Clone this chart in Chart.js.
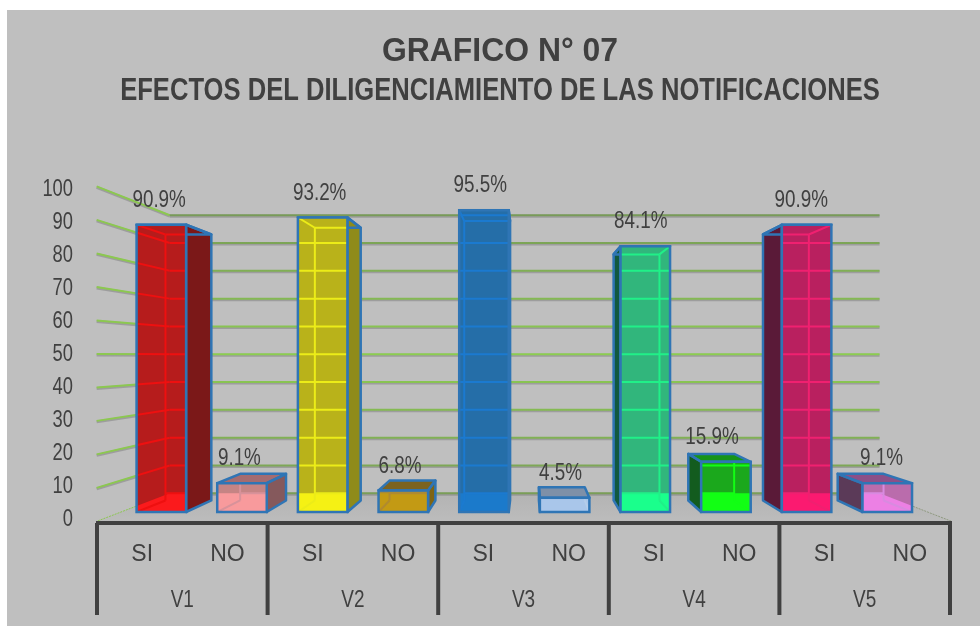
<!DOCTYPE html>
<html><head><meta charset="utf-8">
<style>html,body{margin:0;padding:0;background:#fff}canvas{display:block}</style>
<script src="https://cdn.jsdelivr.net/npm/chart.js@4"></script>
</head><body><canvas id="c" width="980" height="626"></canvas>
<script>
const titleText = 'GRAFICO N° 07';
const subtitleText = 'EFECTOS DEL DILIGENCIAMIENTO DE LAS NOTIFICACIONES';
const responses = ['SI','NO','SI','NO','SI','NO','SI','NO','SI','NO'];
const groups = ['V1','V2','V3','V4','V5'];
const percentages = [90.9,9.1,93.2,6.8,95.5,4.5,84.1,15.9,90.9,9.1];
const axisMin = 0, axisMax = 100, axisStep = 10;

const faceColors  = ['#b61c1c','#c58484','#b9b21a','#a58a3c','#256ea8','#a9c3e4','#31b67c','#1ba81c','#b9205f','#ba6cac'];
const floorColors = ['#fb1a1c','#f89a9c','#f5f114','#c39a14','#1b7acb','#a9c6ea','#1aff8c','#12ff14','#fb1a70','#ec80e4'];
const sideColors  = ['#7b1818','#85595c','#8f8b1a','#7f6412','#206195','#8494ab','#11593f','#135c1f','#5a1a38','#5b3a58'];
const topColors   = ['#b01a1a','#a46c70','#a8a218','#7c6320','#1f6aa6','#7e90a8','#36a878','#179419','#a81e58','#8b5088'];
const lineColors  = ['#ee1010','#d8929a','#ecec18','#b08a30','#1b7ad0','#b4cdea','#20f088','#12ff14','#f02070','#d88ae0'];
const edgeColor = '#2f75b5', darkText = '#404040', sansFont = '"Liberation Sans"';

/* depth of each plane relative to the plane of the bars' front faces */
const VP = {x:527, y:356}, K_FRONT = 1.06, K_BAR = 0.926, K_WALL = 0.88;
const project = (x,y,k)=>({x:VP.x+(x-VP.x)*k, y:VP.y+(y-VP.y)*k});
const poly = (ctx,pts)=>{ctx.beginPath();pts.forEach((p,i)=>i?ctx.lineTo(p.x,p.y):ctx.moveTo(p.x,p.y));ctx.closePath();};
const line = (ctx,a,b)=>{ctx.beginPath();ctx.moveTo(a.x,a.y);ctx.lineTo(b.x,b.y);ctx.stroke();};

function barGeom(el){
  const l=el.x-el.width/2,r=el.x+el.width/2,t=el.y,b=el.base;
  return {l,r,t,b,
    fTL:{x:l,y:t},fTR:{x:r,y:t},fBL:{x:l,y:b},fBR:{x:r,y:b},
    bTL:project(l,t,K_BAR),bTR:project(r,t,K_BAR),bBL:project(l,b,K_BAR),bBR:project(r,b,K_BAR)};
}
function floorPoly(chart){
  const a=chart.chartArea,base=chart.scales.y.getPixelForValue(axisMin);
  return [project(a.left,base,K_WALL),project(a.right,base,K_WALL),project(a.right,base,K_FRONT),project(a.left,base,K_FRONT)];
}
function gridPaths(chart,draw){
  const a=chart.chartArea,y=chart.scales.y;
  for(let v=axisMin;v<=axisMax;v+=axisStep){
    const p=y.getPixelForValue(v);
    draw(project(a.left,p,K_FRONT),project(a.left,p,K_WALL),project(a.right,p,K_WALL),v);
  }
}
/* the reference's text is horizontally squeezed: draw a scale's labels through a horizontal scale */
function condenseLabels(scale,sx){
  if(scale._condensed)return;
  scale._condensed=true;
  const orig=scale.drawLabels;
  scale._computeLabelArea=()=>undefined;
  scale.drawLabels=function(area){
    const items=this.getLabelItems(area);
    if(!items._shifted){items.forEach(it=>{it.options.translation=[it.options.translation[0]/sx,it.options.translation[1]];});items._shifted=true;}
    this.ctx.save();this.ctx.scale(sx,1);orig.call(this,area);this.ctx.restore();
  };
}
function condenseBox(box,sx,cx){
  if(box._condensed)return;
  box._condensed=true;
  const orig=box.draw;
  box.draw=function(area){
    this.ctx.save();this.ctx.translate(cx,0);this.ctx.scale(sx,1);this.ctx.translate(-cx,0);orig.call(this,area);this.ctx.restore();
  };
}

const scene = {
  id:'scene',
  afterLayout(chart){
    const s=chart.scales;
    s.yTicks.top=190; s.yTicks.bottom=520; s.yTicks.left=0; s.yTicks.right=73; s.yTicks.configure();
    s.xResp.left=99.5; s.xResp.right=952.5; s.xResp.top=541; s.xResp.bottom=565; s.xResp.configure();
    s.xGroup.left=97; s.xGroup.right=950; s.xGroup.top=586; s.xGroup.bottom=610; s.xGroup.configure();
    condenseLabels(s.yTicks,.78);
    condenseLabels(s.xGroup,.79);
    chart.boxes.forEach(b=>{
      if(b.options&&b.options.text!==undefined&&b.options.position==='top'){
        b.left=0;b.right=1000;
        condenseBox(b,b.options.text===titleText?.967:.81,500);
      }
    });
  },
  beforeDraw(chart){
    const c=chart.ctx;
    c.save();
    c.fillStyle='#ffffff';c.fillRect(0,0,chart.width,chart.height);
    c.fillStyle='#bfbfbf';c.fillRect(7,10,chart.width-7,chart.height-10);
    c.restore();
  },
  beforeDatasetsDraw(chart){
    const c=chart.ctx;
    c.save();
    /* floor */
    const f=floorPoly(chart);
    const g=c.createLinearGradient(0,f[0].y,0,f[2].y);
    g.addColorStop(0,'#b3b3b3');g.addColorStop(1,'#bcbcbc');
    poly(c,f);c.fillStyle=g;c.fill();
    c.lineWidth=1;c.strokeStyle='#8f9a80';c.setLineDash([2,1]);line(c,f[1],f[2]);
    c.strokeStyle='#8cc850';line(c,f[0],f[3]);c.setLineDash([]);
    /* walls */
    const w=c.createLinearGradient(0,f[0].y-280,0,f[0].y);
    w.addColorStop(0,'#789a58');w.addColorStop(.5,'#8ccd50');w.addColorStop(1,'#7a9e58');
    gridPaths(chart,(front,back,right,v)=>{
      c.lineWidth=3;c.strokeStyle='rgba(130,130,130,.55)';
      if(v>axisMin)line(c,{x:front.x,y:front.y+1},{x:back.x,y:back.y+1});
      line(c,{x:back.x,y:back.y+1},{x:right.x,y:right.y+1});
      c.lineWidth=2;c.strokeStyle='#8cc850';
      if(v>axisMin)line(c,front,back);
      c.strokeStyle=w;line(c,back,right);
    });
    /* bar backs, tops and sides */
    chart.getDatasetMeta(0).data.forEach((el,i)=>{
      const b=barGeom(el);
      poly(c,[b.bTL,b.bTR,b.bBR,b.bBL]);c.fillStyle=faceColors[i];c.fill();
      poly(c,[b.fTL,b.fTR,b.bTR,b.bTL]);c.fillStyle=topColors[i];c.fill();
      const side=b.bTR.x>b.r?[b.fTR,b.bTR,b.bBR,b.fBR]:[b.fTL,b.bTL,b.bBL,b.fBL];
      poly(c,side);c.fillStyle=sideColors[i];c.fill();
      c.lineWidth=2.5;c.strokeStyle=edgeColor;c.lineJoin='round';poly(c,side);c.stroke();
      poly(c,[b.fTL,b.fTR,b.bTR,b.bTL]);c.stroke();
    });
    c.restore();
  },
  afterDatasetsDraw(chart){
    const c=chart.ctx,f=floorPoly(chart);
    chart.getDatasetMeta(0).data.forEach((el,i)=>{
      const b=barGeom(el);
      c.save();
      c.beginPath();c.rect(b.l,b.t,b.r-b.l,b.b-b.t);c.clip();
      poly(c,f);c.fillStyle=floorColors[i];c.fill();
      c.strokeStyle=lineColors[i];c.lineWidth=2;
      gridPaths(chart,(front,back,right,v)=>{if(v>axisMin){line(c,front,back);line(c,back,right);}});
      line(c,b.fTL,b.bTL);line(c,b.fTR,b.bTR);line(c,b.fBL,b.bBL);line(c,b.fBR,b.bBR);
      const inner=b.bTR.x>b.r?[b.bTL,b.bBL]:[b.bTR,b.bBR];
      line(c,inner[0],inner[1]);line(c,b.bTL,b.bTR);
      const wallY=f[0].y;
      line(c,{x:b.bBL.x,y:wallY},{x:b.bBR.x,y:wallY});
      c.restore();
      c.save();
      c.strokeStyle=edgeColor;c.lineWidth=2.5;c.strokeRect(b.l,b.t,b.r-b.l,b.b-b.t);
      c.restore();
    });
    /* value labels */
    const sx=.785,a=chart.chartArea;
    c.save();
    c.scale(sx,1);
    c.font='24px '+sansFont;
    c.fillStyle=darkText;c.textAlign='center';c.textBaseline='middle';
    chart.getDatasetMeta(0).data.forEach((el,i)=>{
      const nudge=percentages[i]===15.9?-14:-2-4*(el.x-a.left)/(a.right-a.left);
      c.fillText(percentages[i].toFixed(1)+'%',(el.x+nudge)/sx,el.y-24.5);
    });
    c.restore();
    /* category frame */
    const sg=chart.scales.xGroup,fy=523,by=615;
    c.save();
    c.strokeStyle=darkText;c.lineWidth=4;c.lineCap='butt';
    c.beginPath();c.moveTo(sg.left-1,fy);c.lineTo(sg.right+2,fy);c.stroke();
    const step=(sg.right-sg.left)/groups.length;
    groups.forEach((g,i)=>{c.beginPath();c.moveTo(sg.getPixelForValue(i)-step/2,fy);c.lineTo(sg.getPixelForValue(i)-step/2,by);c.stroke();});
    c.beginPath();c.moveTo(sg.right,fy);c.lineTo(sg.right,by);c.stroke();
    c.restore();
  }
};

const zeroH = s=>{s.height=0;}, zeroW = s=>{s.width=0;};
new Chart(document.getElementById('c'),{
  type:'bar',
  data:{labels:responses,datasets:[{data:percentages,backgroundColor:faceColors,borderWidth:0,barPercentage:.614,categoryPercentage:1}]},
  plugins:[scene],
  options:{
    responsive:false,animation:false,devicePixelRatio:1,
    layout:{padding:{top:32.2,left:121,right:52.4,bottom:114}},
    plugins:{
      legend:{display:false},tooltip:{enabled:false},
      title:{display:true,text:titleText,color:darkText,font:{family:sansFont,size:33,weight:'bold',lineHeight:1.2},padding:{top:0,bottom:.9}},
      subtitle:{display:true,text:subtitleText,color:darkText,font:{family:sansFont,size:31.6,weight:'bold',lineHeight:1.2},padding:{top:0,bottom:85.4}}
    },
    scales:{
      x:{display:false,offset:true},
      y:{display:false,min:axisMin,max:axisMax},
      yTicks:{type:'linear',position:'left',min:axisMin,max:axisMax,afterFit:zeroW,
        grid:{display:false,drawTicks:false},border:{display:false},
        ticks:{stepSize:axisStep,padding:0,color:darkText,font:{family:sansFont,size:23.5}}},
      xResp:{type:'category',position:'bottom',labels:responses,offset:true,afterFit:zeroH,
        grid:{display:false,drawTicks:false},border:{display:false},
        ticks:{autoSkip:false,maxRotation:0,padding:0,color:darkText,font:{family:sansFont,size:23}}},
      xGroup:{type:'category',position:'bottom',labels:groups,offset:true,afterFit:zeroH,
        grid:{display:false,drawTicks:false},border:{display:false},
        ticks:{autoSkip:false,maxRotation:0,padding:0,color:darkText,font:{family:sansFont,size:24}}}
    }
  }
});
</script></body></html>
